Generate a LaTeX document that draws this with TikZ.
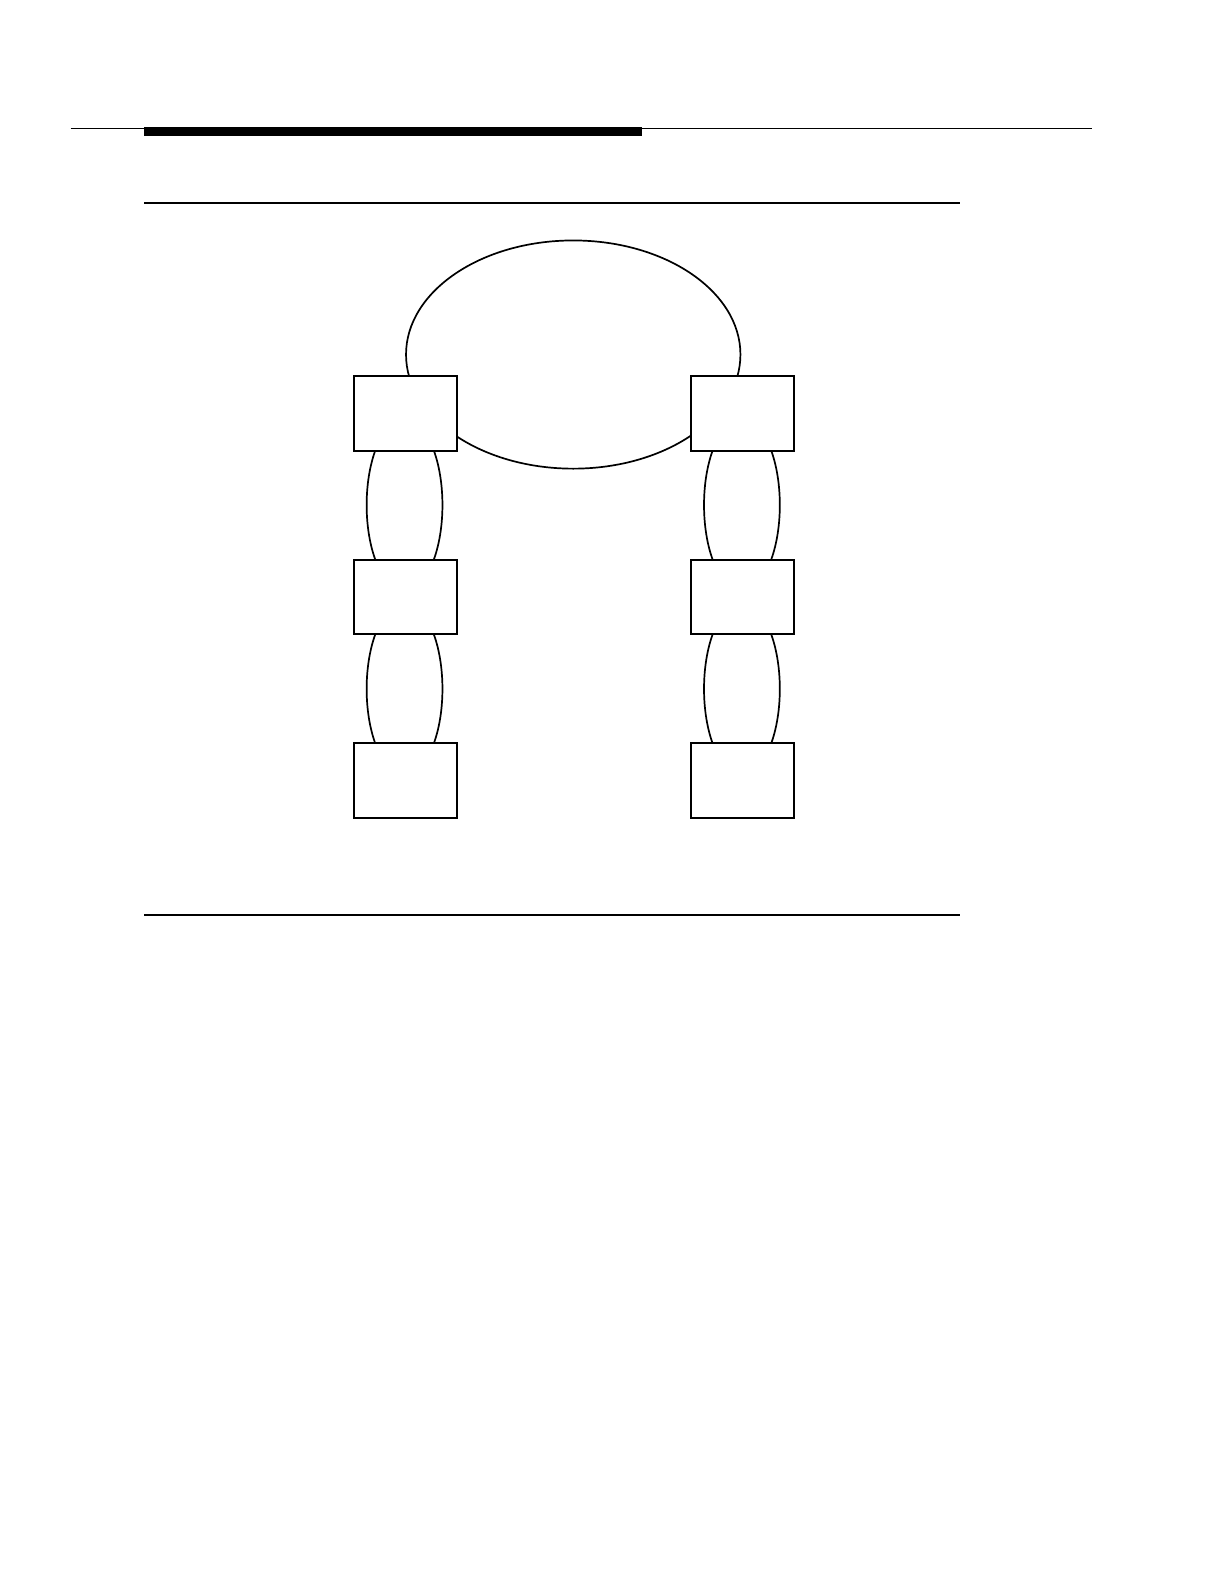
\documentclass[tikz,border=0pt]{standalone}
\usetikzlibrary{shapes.geometric}
\begin{document}
\begin{tikzpicture}[x=0.50505bp,y=-0.50505bp,
  station/.style={draw,fill=white,line width=1bp,minimum width=51.5bp,minimum height=37.4bp,inner sep=0pt,outer sep=0pt},
  ring/.style={draw,ellipse,line width=0.85bp,inner sep=0pt,outer sep=0pt},
  rule/.style={line width=#1}]
\useasboundingbox (0,0) rectangle (1211.76,1568.16);
% header
\draw[rule=0.7bp] (70,127) coordinate (hl) -- (1081,127) coordinate (hr);
\fill (143,126) rectangle (636,135);
\draw[rule=1.1bp] (143,201) coordinate (tl) -- (950,201) coordinate (tr);
\draw[rule=0.7bp] (143,906) coordinate (bl) -- (950,906) coordinate (br);
% rings (drawn first, boxes hide parts)
\node[ring,minimum width=167.2bp,minimum height=114.1bp] (main) at (567.5,351) {};
\node[ring,minimum width=37.9bp,minimum height=85.9bp] (l1) at (400.5,500) {};
\node[ring,minimum width=37.9bp,minimum height=85.9bp] (l2) at (400.5,682) {};
\node[ring,minimum width=37.9bp,minimum height=85.9bp] (r1) at (734.5,500) {};
\node[ring,minimum width=37.9bp,minimum height=85.9bp] (r2) at (734.5,682) {};
% stations
\node[station] (a1) at (401,409) {};
\node[station] (a2) at (401,591) {};
\node[station] (a3) at (401,773) {};
\node[station] (b1) at (735,409) {};
\node[station] (b2) at (735,591) {};
\node[station] (b3) at (735,773) {};
\end{tikzpicture}
\end{document}
